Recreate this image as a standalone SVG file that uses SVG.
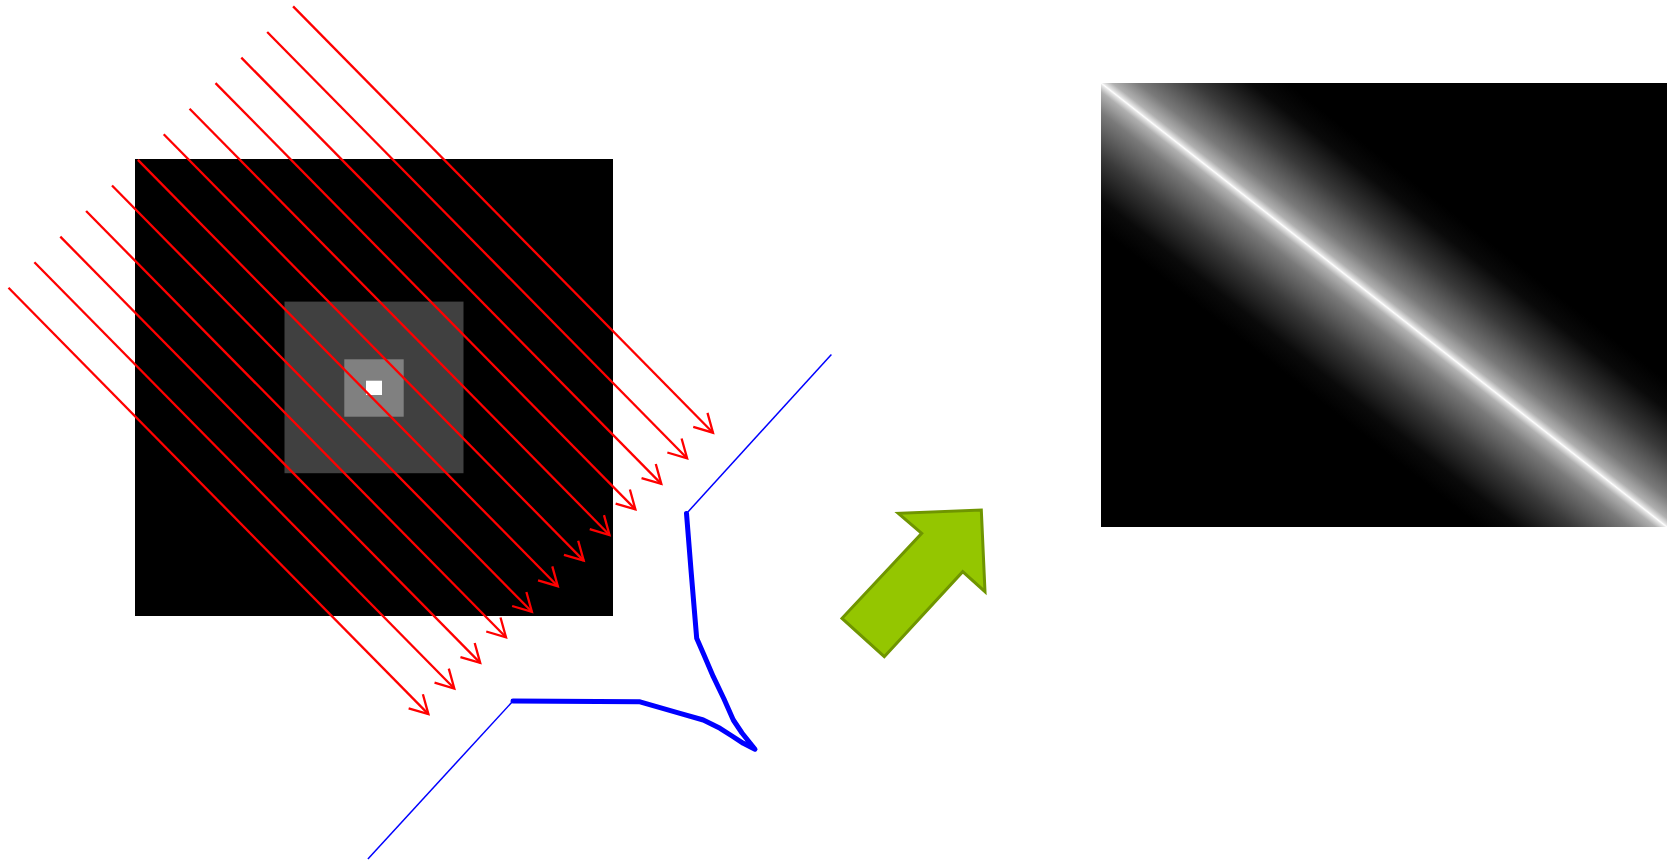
<svg xmlns="http://www.w3.org/2000/svg" width="1671" height="861" viewBox="0 0 1671 861">
<style>
.ray{stroke:#FF0000;stroke-width:2.3;fill:none;marker-end:url(#open)}
.thin{stroke:#0000FF;stroke-width:1.5;fill:none}
.thick{stroke:#0000FF;stroke-width:5;fill:none;stroke-linejoin:round;stroke-linecap:round}
</style>
<defs>
<marker id="open" markerUnits="userSpaceOnUse" viewBox="-2 -12 22 24" refX="18" refY="0" markerWidth="22" markerHeight="24" orient="auto" overflow="visible">
<path d="M0,-10 L18,0 L0,10" fill="none" stroke="#FF0000" stroke-width="2.3"/>
</marker>
<linearGradient id="glow" gradientUnits="userSpaceOnUse" x1="1455" y1="214.5" x2="1313" y2="395.5">
<stop offset="0" stop-color="#000"/>
<stop offset="0.1" stop-color="#0a0a0a"/>
<stop offset="0.25" stop-color="#3a3a3a"/>
<stop offset="0.4" stop-color="#7a7a7a"/>
<stop offset="0.47" stop-color="#b0b0b0"/>
<stop offset="0.494" stop-color="#e6e6e6"/>
<stop offset="0.5" stop-color="#fff"/>
<stop offset="0.506" stop-color="#e6e6e6"/>
<stop offset="0.53" stop-color="#b0b0b0"/>
<stop offset="0.6" stop-color="#7a7a7a"/>
<stop offset="0.75" stop-color="#3a3a3a"/>
<stop offset="0.9" stop-color="#0a0a0a"/>
<stop offset="1" stop-color="#000"/>
</linearGradient>
</defs>
<rect width="1671" height="861" fill="#FFFFFF"/>
<g id="phantom">
<rect x="135" y="159" width="478" height="457" fill="#000000"/>
<rect x="284.5" y="301.6" width="179" height="171.6" fill="#404040"/>
<rect x="344.3" y="359.3" width="59.4" height="57.4" fill="#808080"/>
<rect x="366" y="380.7" width="16" height="14.3" fill="#FFFFFF"/>
</g>
<g id="rays">
<line class="ray" x1="293.1" y1="6.4" x2="713" y2="432.7"/>
<line class="ray" x1="267.2" y1="32" x2="687.1" y2="458.3"/>
<line class="ray" x1="241.3" y1="57.6" x2="661.3" y2="483.9"/>
<line class="ray" x1="215.5" y1="83.1" x2="635.4" y2="509.4"/>
<line class="ray" x1="189.6" y1="108.7" x2="609.5" y2="535"/>
<line class="ray" x1="163.7" y1="134.3" x2="583.7" y2="560.6"/>
<line class="ray" x1="137.9" y1="159.9" x2="557.8" y2="586.2"/>
<line class="ray" x1="112" y1="185.5" x2="531.9" y2="611.8"/>
<line class="ray" x1="86.1" y1="211" x2="506" y2="637.3"/>
<line class="ray" x1="60.3" y1="236.6" x2="480.2" y2="662.9"/>
<line class="ray" x1="34.4" y1="262.2" x2="454.3" y2="688.5"/>
<line class="ray" x1="8.5" y1="287.8" x2="428.4" y2="714.1"/>
</g>
<g id="projection">
<line class="thin" x1="831.4" y1="354.5" x2="686.5" y2="513.5"/>
<polyline class="thick" points="686.5,513.5 691,570 696.7,638.3 704,655 713.3,676.7 724,699 733.3,720 742,733 755,749.3 743.3,743.3 732,736 720,728.3 703.3,720 680,713.3 660,707.7 640,701.8 513,701"/>
<line class="thin" x1="513" y1="701" x2="367.9" y2="858.9"/>
</g>
<g id="arrow">
<polygon points="842,618.3 884.3,656.7 962.7,571.7 985,591.7 981.3,510 898.3,513.3 921.7,533.3" fill="#94C600" stroke="#6F9500" stroke-width="3"/>
</g>
<g id="sinogram">
<rect x="1101" y="83" width="566" height="444" fill="url(#glow)"/>
</g>
</svg>
